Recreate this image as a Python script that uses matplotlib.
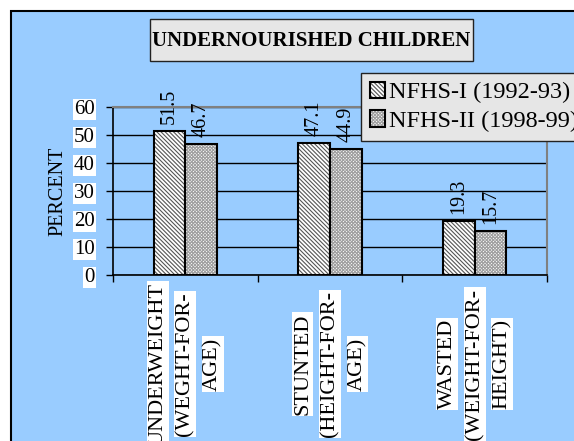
import matplotlib
matplotlib.use('Agg')
import matplotlib.pyplot as plt
from matplotlib.patches import Rectangle

# data
categories = ["UNDERWEIGHT\n(WEGHT-FOR-\nAGE)",
              "STUNTED\n(HEIGHT-FOR-\nAGE)",
              "WASTED\n(WEIGHT-FOR-\nHEIGHT)"]
series_names = ["NFHS-I (1992-93)", "NFHS-II (1998-99)"]
nfhs1 = [51.5, 47.1, 19.3]
nfhs2 = [46.7, 44.9, 15.7]
yticks = [0, 10, 20, 30, 40, 50, 60]

plt.rcParams['font.family'] = ['Liberation Serif', 'DejaVu Serif']
plt.rcParams['hatch.linewidth'] = 0.8

W, H = 574, 441
fig = plt.figure(figsize=(W / 100, H / 100), dpi=100)
fig.patch.set_facecolor('white')

# blue chart area with black border on top/left
fig.add_artist(Rectangle((11 / W, -0.01), 1.0, 1 - 11 / H + 0.01, transform=fig.transFigure,
                         facecolor='#99ccff', edgecolor='black', linewidth=1.5, zorder=-2))

ax = fig.add_axes([113 / W, 1 - 275 / H, (547 - 113) / W, (275 - 107) / H])
ax.set_facecolor('none')

x = [i + 0.5 for i in range(len(categories))]
bw = 0.22
hatches = ['\\' * 8, 'x' * 10]
hcols = ['#555555', '#a0a0a0']
handles = []
for k, vals in enumerate([nfhs1, nfhs2]):
    xs = [xi + (k - 0.5) * bw for xi in x]
    hb = ax.bar(xs, vals, width=bw, color='white', edgecolor=hcols[k], linewidth=0,
                hatch=hatches[k], zorder=3)
    eb = ax.bar(xs, vals, width=bw, fill=False, edgecolor='black', linewidth=1.5, zorder=4)
    handles.append((hb, eb))
    for xi, v in zip(xs, vals):
        ax.annotate(f"{v}", (xi, v), xytext=(0, 5), textcoords='offset points',
                    rotation=90, ha='center', va='bottom', fontsize=14.5, zorder=5)

ax.set_xlim(0, 3)
ax.set_ylim(0, 60)
ax.set_yticks(yticks)
ax.set_yticklabels([str(t) for t in yticks], fontsize=15,
                   bbox=dict(facecolor='white', edgecolor='none', pad=1))
ax.set_xticks([0, 1, 2, 3])
ax.set_xticklabels([])
ax.tick_params(axis='both', direction='out', length=5, width=1, color='black')
ax.tick_params(axis='y', pad=8)
ax.grid(axis='y', color='black', linewidth=1, zorder=1)
ax.set_axisbelow(True)
for s in ['left', 'bottom']:
    ax.spines[s].set_color('black')
    ax.spines[s].set_linewidth(1.2)
for s in ['top', 'right']:
    ax.spines[s].set_color('#808080')
    ax.spines[s].set_linewidth(1.5)

ax.set_ylabel('PERCENT', fontsize=14.5, labelpad=5)

# category labels: one white box per line, lines centered on each other
trans = ax.get_xaxis_transform()
for xi, lab in zip(x, categories):
    lines = lab.split('\n')
    n = len(lines)
    for j, line in enumerate(lines):
        ax.text(xi + (j - (n - 1) / 2) * 0.19, -0.53, line, transform=trans,
                rotation=90, ha='center', va='center', fontsize=16,
                bbox=dict(facecolor='white', edgecolor='none', pad=1), clip_on=False)

# title box
fig.add_artist(Rectangle((150 / W, 1 - 61 / H), 323 / W, 42 / H, transform=fig.transFigure,
                         facecolor='#e6e6e6', edgecolor='#222222', linewidth=1))
fig.text(311.5 / W, 1 - 41 / H, 'UNDERNOURISHED CHILDREN', ha='center', va='center',
         fontsize=15, fontweight='bold')

leg = fig.legend(handles, series_names, loc='upper left',
                 bbox_to_anchor=(361 / W, 1 - 73 / H), bbox_transform=fig.transFigure,
                 fontsize=17.5, frameon=True, fancybox=False, framealpha=1,
                 facecolor='#e6e6e6', edgecolor='#222222', borderaxespad=0,
                 borderpad=0.35, handlelength=0.65, handleheight=0.65,
                 handletextpad=0.15, labelspacing=0.3)
leg.get_frame().set_linewidth(1)

fig.savefig('out.png', dpi=100)
